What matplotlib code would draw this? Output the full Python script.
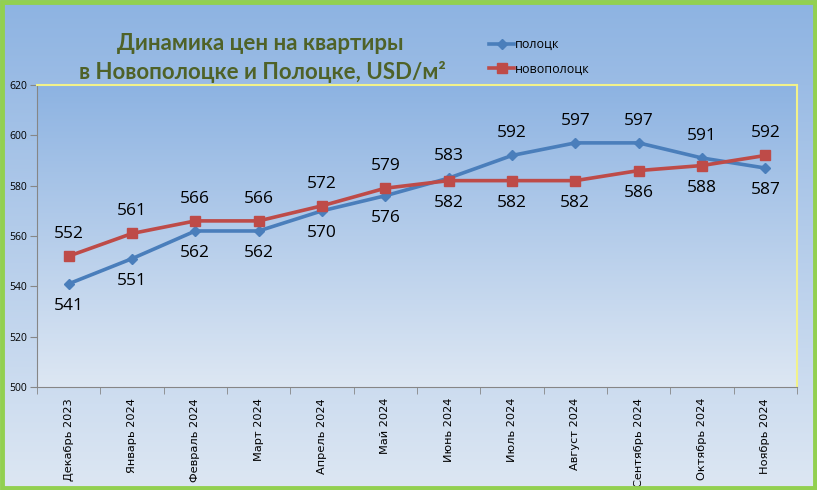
import numpy as np
import matplotlib
matplotlib.use("Agg")
import matplotlib.pyplot as plt
from matplotlib.patches import Rectangle
from matplotlib.colors import LinearSegmentedColormap

months = ["Декабрь 2023", "Январь 2024", "Февраль 2024", "Март 2024", "Апрель 2024",
          "Май 2024", "Июнь 2024", "Июль 2024", "Август 2024", "Сентябрь 2024",
          "Октябрь 2024", "Ноябрь 2024"]
polotsk = [541, 551, 562, 562, 570, 576, 583, 592, 597, 597, 591, 587]
novopolotsk = [552, 561, 566, 566, 572, 579, 582, 582, 582, 586, 588, 592]
# label placement: +1 above, -1 below
polotsk_pos = [-1, -1, -1, -1, -1, -1, 1, 1, 1, 1, 1, -1]
novo_pos = [1, 1, 1, 1, 1, 1, -1, -1, -1, -1, -1, 1]
yticks = [500, 520, 540, 560, 580, 600, 620]

fig = plt.figure(figsize=(8.17, 4.90), dpi=100)

cmap = LinearSegmentedColormap.from_list("bg", ["#dde7f3", "#8db3e2"])
grad = np.linspace(0, 1, 256).reshape(-1, 1)
bgax = fig.add_axes([0, 0, 1, 1], zorder=0)
bgax.imshow(grad, aspect="auto", cmap=cmap, origin="lower", extent=[0, 1, 0, 1])
bgax.set_axis_off()
fig.patches.append(Rectangle((0.0025, 0.004), 0.995, 0.992, transform=fig.transFigure,
                             fill=False, edgecolor="#92d050", linewidth=3.5, zorder=10))

ax = fig.add_axes([37/817, 1-387/490, 760/817, 302/490], zorder=1)
ax.set_facecolor("none")
ax.imshow(grad, aspect="auto", cmap=cmap, origin="lower", extent=[0, 1, 0, 1],
          transform=ax.transAxes, zorder=0)

x = np.arange(len(months))
ax.plot(x, polotsk, color="#4a7ebb", linewidth=2.6, marker="D", markersize=5.5,
        label="полоцк", zorder=3)
ax.plot(x, novopolotsk, color="#be4b48", linewidth=2.6, marker="s", markersize=7,
        label="новополоцк", zorder=3)

for xi, v, p in zip(x, polotsk, polotsk_pos):
    ax.annotate(str(v), (xi, v), xytext=(0, 16 * p), textcoords="offset points",
                ha="center", va="center", fontsize=12.5, color="black",
                family="Open Sans", zorder=4)
for xi, v, p in zip(x, novopolotsk, novo_pos):
    ax.annotate(str(v), (xi, v), xytext=(0, 16 * p), textcoords="offset points",
                ha="center", va="center", fontsize=12.5, color="black",
                family="Open Sans", zorder=4)

ax.set_xlim(-0.5, len(months) - 0.5)
ax.set_ylim(500, 620)
ax.set_yticks(yticks)
ax.set_yticklabels([str(t) for t in yticks], fontsize=7.5, family="Open Sans")
ax.set_xticks(x)
ax.set_xticklabels(months, rotation=90, fontsize=8.2)
ax.tick_params(axis="x", length=0, pad=8)
ax.set_xticks(np.arange(-0.5, len(months)), minor=True)
ax.tick_params(axis="x", which="minor", length=5, color="#868686")
ax.tick_params(axis="y", length=5, color="#868686", pad=2)
for s in ["left", "bottom"]:
    ax.spines[s].set_color("#868686")
for s in ["top", "right"]:
    ax.spines[s].set_color("#f2f28a")
    ax.spines[s].set_linewidth(1.5)

fig.text(260/817, 1-44/490, "Динамика цен на квартиры", ha="center", va="center",
         fontsize=16, fontweight="bold", color="#4f6228", family="Lato")
fig.text(262/817, 1-72/490, "в Новополоцке и Полоцке, USD/м²", ha="center", va="center",
         fontsize=16, fontweight="bold", color="#4f6228", family="Lato")

leg = fig.legend(loc="upper left", bbox_to_anchor=(484/817, 1-33/490), frameon=False,
                 handlelength=2.0, handletextpad=0.1, labelspacing=0.95,
                 borderaxespad=0, prop={"family": "Open Sans", "size": 9})

fig.savefig("out.png", dpi=100)
